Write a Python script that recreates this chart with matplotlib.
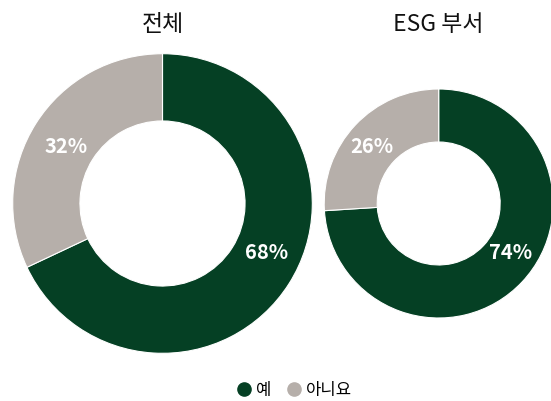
import matplotlib
matplotlib.use("Agg")
import matplotlib.pyplot as plt
from matplotlib.lines import Line2D

plt.rcParams['font.family'] = ['Noto Sans CJK KR', 'DejaVu Sans']

# ---- data ----
categories = ["예", "아니요"]
titles = ["전체", "ESG 부서"]
values_all = [68, 32]
values_esg = [74, 26]
series = [values_all, values_esg]

# ---- style ----
colors = ["#054024", "#b6afaa"]
W, H = 551, 401
centers = [(162.5, H - 203.5), (438.7, H - 203.5)]
radii = [149.8, 114.5]
inner_ratio = [0.551, 0.537]
# label offsets (pixels, relative to donut centre)
label_offsets = [[(104, -49), (-96.5, 57)], [(72, -49), (-67, 57)]]
title_y = H - 24.5

fig = plt.figure(figsize=(W / 100, H / 100), dpi=100)
ax = fig.add_axes([0, 0, 1, 1])

for vals, c, r, ir, offs, title in zip(series, centers, radii, inner_ratio, label_offsets, titles):
    ax.pie(vals, colors=colors, startangle=90, counterclock=False,
           center=c, radius=r, frame=True,
           wedgeprops=dict(width=r * (1 - ir), edgecolor="white", linewidth=0.8))
    for v, (dx, dy) in zip(vals, offs):
        ax.text(c[0] + dx, c[1] + dy, f"{v}%", color="white", fontsize=14.5,
                fontweight="bold", ha="center", va="center")
    ax.text(c[0], title_y, title, fontsize=16.5, fontweight="medium",
            ha="center", va="center", color="#111111")

ax.set_xlim(0, W)
ax.set_ylim(0, H)
ax.set_aspect("equal")
ax.set_axis_off()

handles = [Line2D([], [], marker="o", linestyle="none", markersize=9.5,
                  markerfacecolor=col, markeredgecolor=col) for col in colors]
fig.legend(handles, categories, loc="center", bbox_to_anchor=(294 / W, 1 - 390.7 / H),
           ncol=2, frameon=False, fontsize=12, handletextpad=0.2,
           columnspacing=0.9, handlelength=1.0)

fig.savefig("out.png", dpi=100)
